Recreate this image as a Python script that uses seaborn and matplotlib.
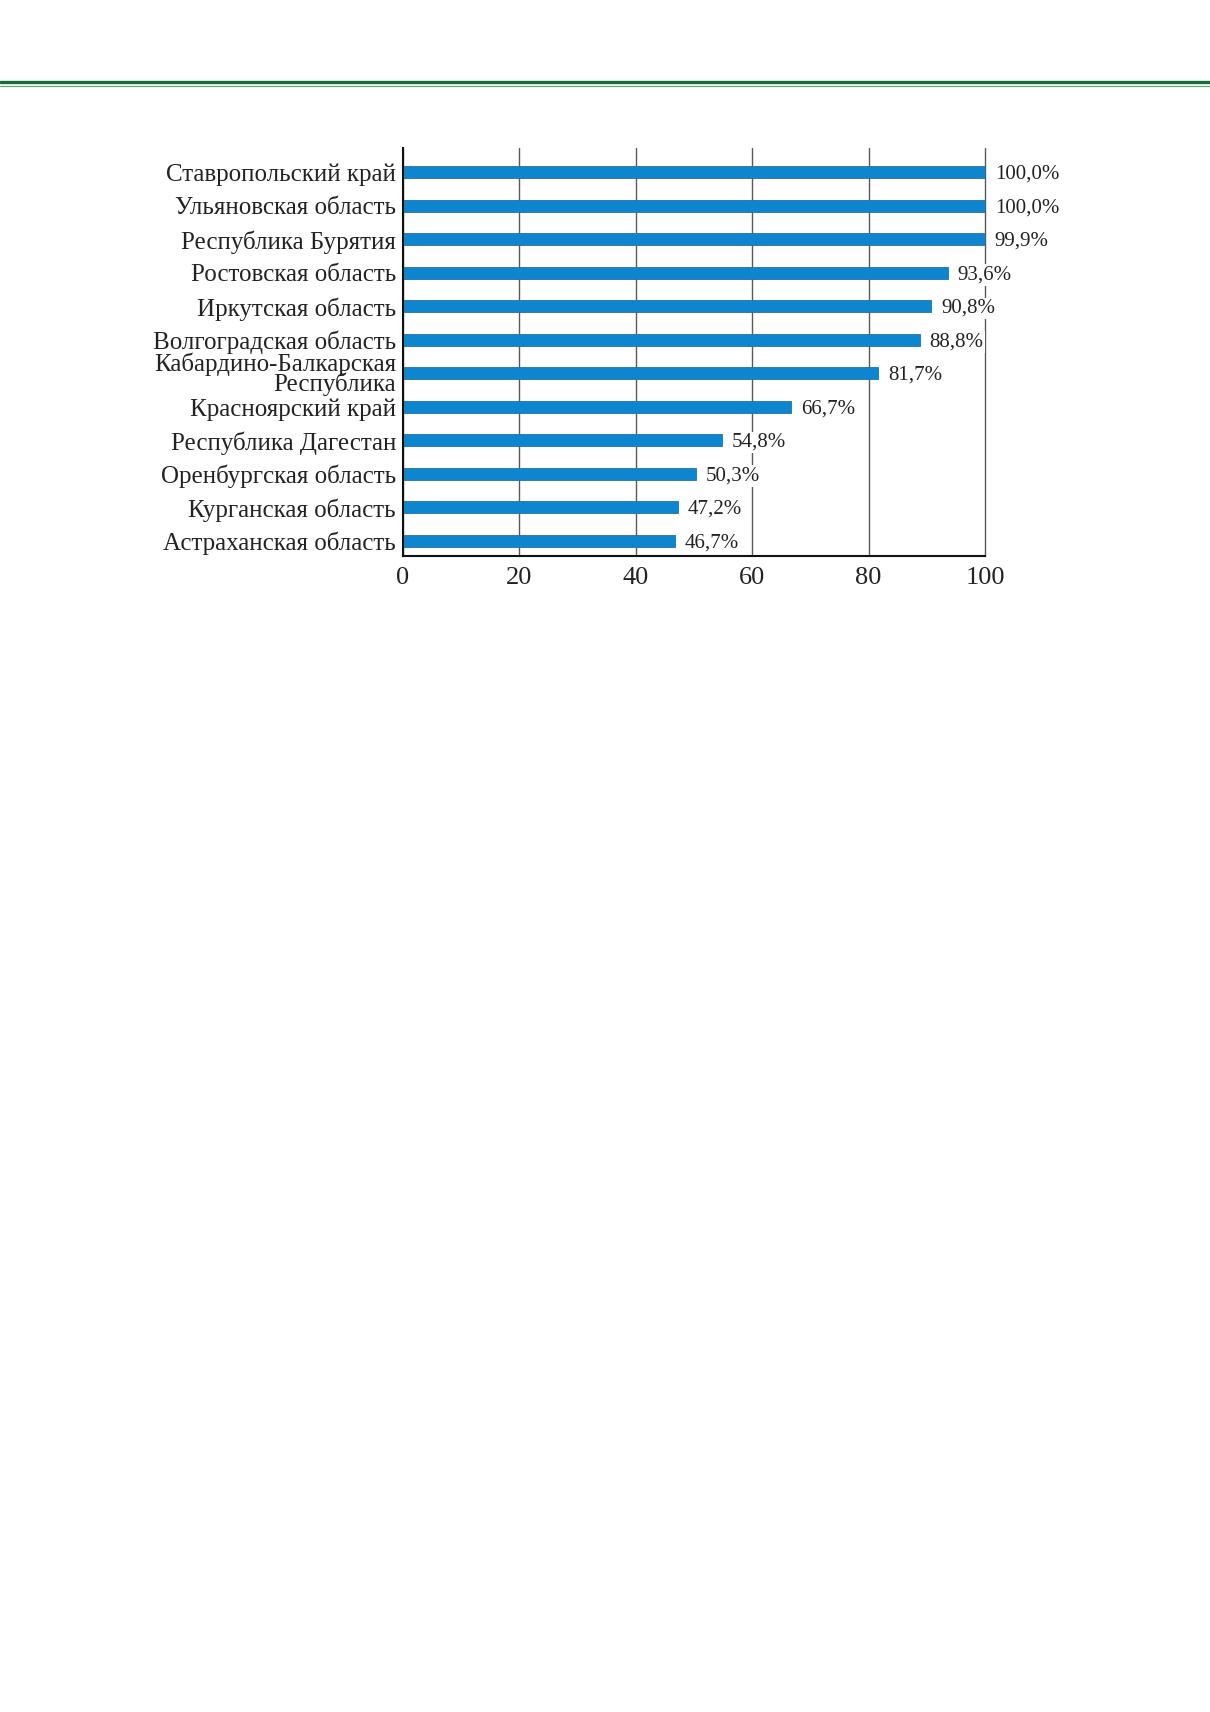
import matplotlib
matplotlib.use("Agg")
import matplotlib.pyplot as plt
from matplotlib.lines import Line2D
import seaborn as sns
import pandas as pd

regions = [
    "Ставропольский край",
    "Ульяновская область",
    "Республика Бурятия",
    "Ростовская область",
    "Иркутская область",
    "Волгоградская область",
    "Кабардино-Балкарская\nРеспублика",
    "Красноярский край",
    "Республика Дагестан",
    "Оренбургская область",
    "Курганская область",
    "Астраханская область",
]
values = [100.0, 100.0, 99.9, 93.6, 90.8, 88.8, 81.7, 66.7, 54.8, 50.3, 47.2, 46.7]
value_labels = ["100,0%", "100,0%", "99,9%", "93,6%", "90,8%", "88,8%",
                "81,7%", "66,7%", "54,8%", "50,3%", "47,2%", "46,7%"]
x_ticks = [0, 20, 40, 60, 80, 100]

sns.set_theme(style="white")
plt.rcParams["font.family"] = ["Liberation Serif", "DejaVu Serif"]

df = pd.DataFrame({"region": regions, "value": values})

W, H = 1210, 1712
fig = plt.figure(figsize=(W / 100, H / 100), dpi=100, facecolor="white")

# header rules
fig.add_artist(Line2D([0, 1], [1 - 82 / H, 1 - 82 / H], transform=fig.transFigure,
                      color="#1b6b3a", lw=2.4))
fig.add_artist(Line2D([0, 1], [1 - 85.8 / H, 1 - 85.8 / H], transform=fig.transFigure,
                      color="#5fa878", lw=0.9))

left, right, top, bottom = 403, 985, 148, 556
ax = fig.add_axes([left / W, 1 - bottom / H, (right - left) / W, (bottom - top) / H])

sns.barplot(data=df, y="region", x="value", orient="h", color="#0d86cf",
            width=0.36, saturation=1, edgecolor="#2a6f9e", linewidth=0.6, ax=ax, zorder=3)

ax.set_xlim(0, 100)
ax.set_ylim(11.45, -0.73)
ax.set_xticks(x_ticks)
ax.set_xticklabels([str(t) for t in x_ticks], fontsize=19, color="#222222")
ax.tick_params(axis="x", length=0, pad=8)
ax.tick_params(axis="y", length=0, pad=5, labelsize=18, labelcolor="#222222")
for lab in ax.get_yticklabels():
    lab.set_linespacing(0.82)
ax.set_xlabel("")
ax.set_ylabel("")

ax.grid(axis="x", color="#5a5a5a", lw=1.0, zorder=1)
ax.grid(axis="y", visible=False)
for gl in ax.get_xgridlines():
    gl.set_clip_on(False)
for s in ["top", "right"]:
    ax.spines[s].set_visible(False)
for s in ["left", "bottom"]:
    ax.spines[s].set_color("#111111")
    ax.spines[s].set_linewidth(1.5)
    ax.spines[s].set_zorder(4)

for i, (v, t) in enumerate(zip(values, value_labels)):
    ax.annotate(t, xy=(v, i), xytext=(7, -1.5), textcoords="offset points",
                ha="left", va="center", fontsize=15, color="#222222", zorder=5,
                annotation_clip=False,
                bbox=dict(boxstyle="square,pad=0.05", facecolor="white", edgecolor="none"))

fig.savefig("out.png", dpi=100, facecolor="white")
